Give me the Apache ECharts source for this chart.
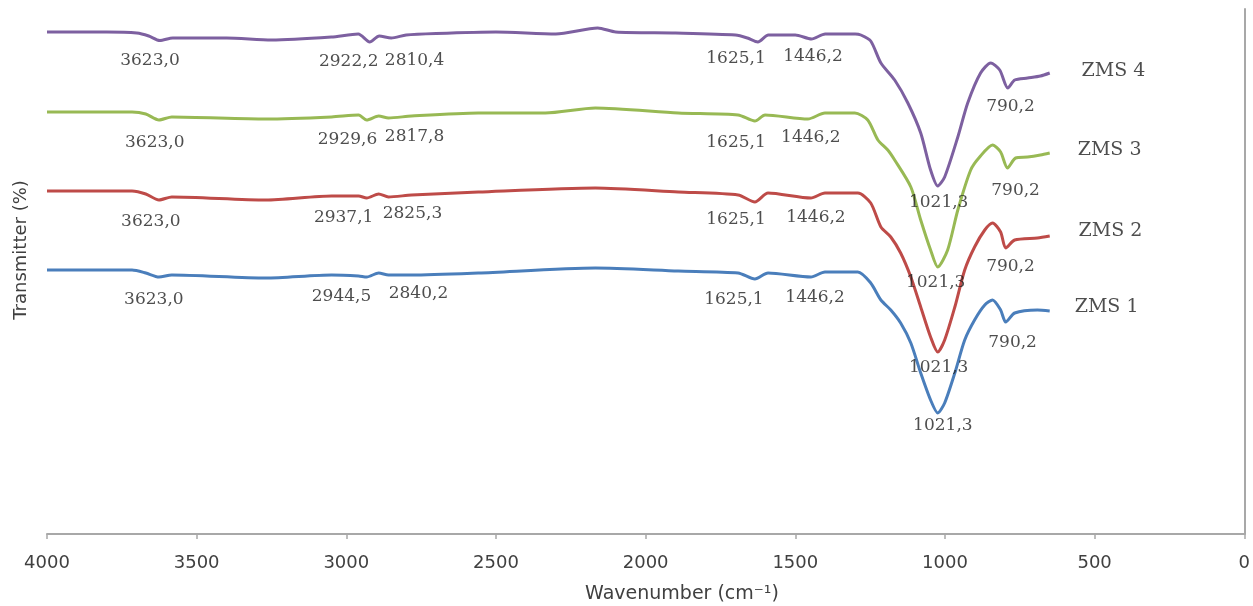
<!DOCTYPE html>
<html>
<head>
<meta charset="utf-8">
<script src="https://cdn.jsdelivr.net/npm/echarts@6/dist/echarts.min.js"></script>
<style>
html,body{margin:0;padding:0;background:#fff;}
#chart{width:1253px;height:606px;}
</style>
</head>
<body>
<div id="chart"></div>
<script>
// Wavenumber ticks
const xTicks = [4000, 3500, 3000, 2500, 2000, 1500, 1000, 500, 0];

// Series data: [wavenumber (cm-1), transmittance (arb. %)]
const zms4 = [[4000,100.4],[3800,100.4],[3700,100.2],[3660,99.6],[3623,98.7],[3580,99.2],[3400,99.2],[3250,98.8],[3050,99.4],[2960,100.0],[2922,98.4],[2890,99.6],[2850,99.2],[2800,99.8],[2700,100.1],[2500,100.4],[2300,100.0],[2160,101.2],[2100,100.4],[1900,100.2],[1700,99.8],[1660,99.2],[1625,98.4],[1590,99.8],[1500,99.8],[1446,99.0],[1400,100.0],[1300,100.0],[1281,99.8],[1248,98.6],[1214,94.2],[1168,90.8],[1124,86.2],[1081,80.2],[1048,72.8],[1024,69.6],[1001,71.4],[957,79.4],[924,86.2],[881,92.2],[847,94.2],[817,92.8],[790,89.2],[767,90.8],[724,91.2],[681,91.6],[650,92.2]];
const zms3 = [[4000,84.4],[3716,84.4],[3670,84.0],[3626,82.8],[3583,83.4],[3269,83.0],[3049,83.4],[2959,83.8],[2932,82.8],[2892,83.6],[2859,83.2],[2782,83.6],[2559,84.2],[2335,84.2],[2168,85.2],[1891,84.2],[1691,83.8],[1635,82.6],[1601,83.8],[1458,83.0],[1401,84.2],[1301,84.2],[1258,82.8],[1224,78.8],[1191,76.8],[1168,74.8],[1114,69.4],[1081,62.8],[1048,56.8],[1024,53.4],[991,56.8],[957,64.8],[914,72.8],[884,75.4],[841,77.8],[814,76.4],[791,73.2],[764,75.2],[724,75.4],[681,75.8],[650,76.2]];
const zms2 = [[4000,68.6],[3716,68.6],[3670,68.0],[3626,66.8],[3583,67.4],[3269,66.8],[3049,67.6],[2959,67.6],[2932,67.2],[2892,68.0],[2859,67.4],[2782,67.8],[2559,68.4],[2168,69.2],[1891,68.4],[1691,67.8],[1635,66.4],[1591,68.2],[1448,67.2],[1401,68.2],[1291,68.2],[1248,66.2],[1214,61.4],[1181,59.4],[1148,56.2],[1114,51.4],[1081,45.4],[1048,39.4],[1024,36.4],[1001,38.8],[967,45.4],[934,52.8],[901,57.4],[867,60.8],[841,62.2],[814,60.4],[797,57.2],[767,58.8],[691,59.2],[650,59.6]];
const zms1 = [[4000,52.8],[3716,52.8],[3670,52.2],[3626,51.4],[3583,51.8],[3269,51.2],[3049,51.8],[2959,51.6],[2932,51.4],[2892,52.2],[2859,51.8],[2782,51.8],[2559,52.2],[2168,53.2],[1891,52.6],[1691,52.2],[1635,51.0],[1591,52.2],[1448,51.4],[1401,52.4],[1291,52.4],[1248,50.2],[1214,46.8],[1181,44.8],[1148,42.2],[1114,38.2],[1081,32.2],[1048,26.8],[1024,24.2],[1001,26.2],[967,32.2],[934,38.8],[901,42.8],[867,45.8],[841,46.8],[814,44.8],[797,42.4],[767,44.2],[691,44.8],[650,44.6]];

// Peak annotations: [wavenumber, transmittance, text]
const peaks4 = [[3656,94.6,'3623,0'],[2992,94.4,'2922,2'],[2772,94.6,'2810,4'],[1698,95.0,'1625,1'],[1441,95.4,'1446,2'],[781,85.4,'790,2'],[1021,66.2,'1021,3']];
const peaks3 = [[3640,78.2,'3623,0'],[2996,78.8,'2929,6'],[2772,79.4,'2817,8'],[1698,78.2,'1625,1'],[1448,79.2,'1446,2'],[764,68.6,'790,2'],[1031,50.2,'1021,3']];
const peaks2 = [[3653,62.4,'3623,0'],[3009,63.2,'2937,1'],[2779,64.0,'2825,3'],[1698,62.8,'1625,1'],[1431,63.2,'1446,2'],[781,53.4,'790,2'],[1021,33.2,'1021,3']];
const peaks1 = [[3643,46.8,'3623,0'],[3016,47.4,'2944,5'],[2759,48.0,'2840,2'],[1705,46.8,'1625,1'],[1434,47.2,'1446,2'],[774,38.2,'790,2'],[1007,21.6,'1021,3']];

// Series names and their label anchors
const seriesNames = ['ZMS 1', 'ZMS 2', 'ZMS 3', 'ZMS 4'];
const nameAnchors = [[460,45.4],[447,60.6],[450,76.8],[437,92.6]];
const colors = ['#4A7EBB', '#BE4B48', '#98B954', '#7D60A0'];

const curves = [zms1, zms2, zms3, zms4];
const peakSets = [peaks1, peaks2, peaks3, peaks4];

const chart = echarts.init(document.getElementById('chart'), null, {renderer: 'canvas'});

const series = [];
curves.forEach((d, i) => {
  series.push({
    type: 'line',
    name: seriesNames[i],
    data: d,
    showSymbol: false,
    smooth: 0.25,
    lineStyle: {color: colors[i], width: 3},
    itemStyle: {color: colors[i]},
    z: 3
  });
});
peakSets.forEach((p) => {
  series.push({
    type: 'scatter',
    data: p.map(r => ({name: r[2], value: [r[0], r[1]]})),
    symbolSize: 1,
    itemStyle: {color: 'rgba(0,0,0,0)'},
    silent: true,
    label: {show: true, position: 'inside', formatter: '{b}', fontFamily: 'DejaVu Serif', fontSize: 17, color: '#222'},
    z: 5
  });
});
series.push({
  type: 'scatter',
  data: nameAnchors.map((a, i) => ({name: seriesNames[i], value: a})),
  symbolSize: 1,
  itemStyle: {color: 'rgba(0,0,0,0)'},
  silent: true,
  label: {show: true, position: 'inside', formatter: '{b}', fontFamily: 'DejaVu Serif', fontSize: 19, color: '#222'},
  z: 5
});

chart.setOption({
  animation: false,
  backgroundColor: '#fff',
  grid: {left: 47, right: 6, top: 9, bottom: 72, containLabel: false},
  xAxis: {
    type: 'value',
    inverse: true,
    min: 0,
    max: 4000,
    interval: 500,
    axisLine: {show: true, lineStyle: {color: '#a8a8a8', width: 2}},
    axisTick: {show: true, length: 5, lineStyle: {color: '#a8a8a8', width: 1.5}},
    splitLine: {show: false},
    axisLabel: {
      margin: 20,
      fontFamily: 'DejaVu Sans',
      fontSize: 18,
      color: '#404040',
      formatter: v => xTicks.includes(v) ? String(v) : ''
    }
  },
  yAxis: {
    type: 'value',
    min: 0,
    max: 105,
    axisLine: {show: true, lineStyle: {color: '#a8a8a8', width: 2}},
    axisTick: {show: false},
    axisLabel: {show: false},
    splitLine: {show: false}
  },
  graphic: [
    {type: 'text', x: 21, y: 250, rotation: Math.PI / 2,
     style: {text: 'Transmitter (%)', fontFamily: 'DejaVu Sans', fontSize: 18, fill: '#404040', textAlign: 'center', textVerticalAlign: 'middle'}},
    {type: 'text', x: 682, y: 594,
     style: {text: 'Wavenumber (cm\u207B\u00B9)', fontFamily: 'DejaVu Sans', fontSize: 19, fill: '#404040', textAlign: 'center', textVerticalAlign: 'middle'}}
  ],
  series: series
});
</script>
</body>
</html>
